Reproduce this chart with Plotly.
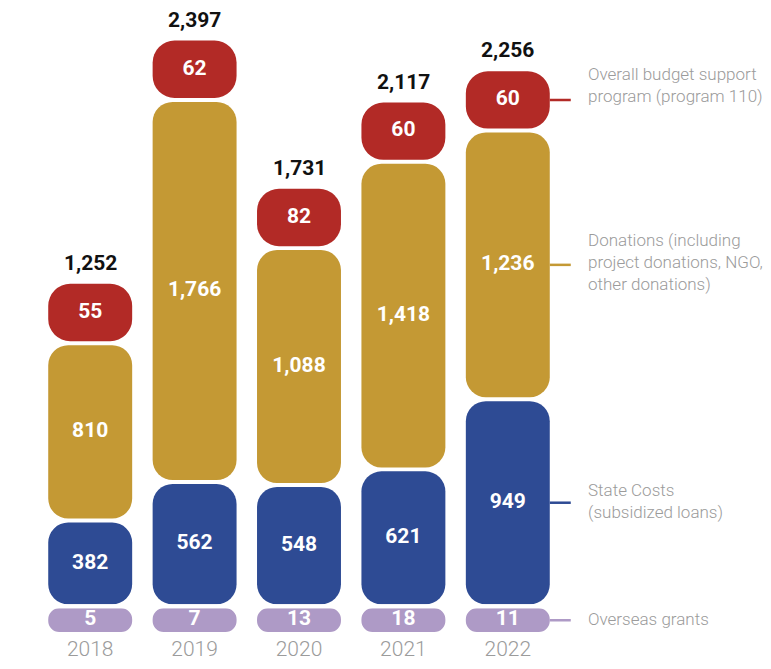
import plotly.graph_objects as go

# ---------------- data ----------------
years = ["2018", "2019", "2020", "2021", "2022"]
state_costs = [382, 562, 548, 621, 949]          # blue
donations = [810, 1766, 1088, 1418, 1236]        # gold
budget_support = [55, 62, 82, 60, 60]            # red
overseas_grants = [5, 7, 13, 18, 11]             # lavender row
totals = [1252, 2397, 1731, 2117, 2256]

series_names = [
    "Overall budget support<br>program (program 110)",
    "Donations (including<br>project donations, NGO,<br>other donations)",
    "State Costs<br>(subsidized loans)",
    "Overseas grants",
]

# ---------------- style ----------------
# (page body has an 8px margin, so the figure is sized/offset for it)
W, H = 755, 653
ML, MR, MT, MB = 30, 203, 0, 22
PLOT_H = H - MT - MB
PLOT_W = W - ML - MR
BASE_PX = 603                 # pixel row of value 0 inside plot area
PX_PER_UNIT = 0.2165
GAP_PX = 4
RED_MIN_PX = 58
GRANT_ROW_PX = 24
BAR_W = 0.804
FONT = "Roboto"

C_RED = "#B22A26"
C_GOLD = "#C49934"
C_BLUE = "#2E4B94"
C_LAV = "#AE9AC6"
C_GREY = "#9B9B9B"

u = 1.0 / PX_PER_UNIT
GAP_U = GAP_PX * u
RED_MIN_U = RED_MIN_PX * u
Y_TOP = BASE_PX * u

main_dom = [(PLOT_H - BASE_PX) / PLOT_H, 1.0]
grant_dom = [0.0, GRANT_ROW_PX / PLOT_H]

# segment bounds
blue_lo = [0.0 for _ in years]
blue_hi = [float(b) for b in state_costs]
gold_lo = [b + GAP_U for b in blue_hi]
gold_hi = [lo + g for lo, g in zip(gold_lo, donations)]
red_lo = [g + GAP_U for g in gold_hi]
red_hi = [lo + max(r, RED_MIN_U) for lo, r in zip(red_lo, budget_support)]

fig = go.Figure()


def add_pill(lo, hi, color, radius, yaxis="y"):
    fig.add_trace(go.Bar(
        x=years, y=[b - a for a, b in zip(lo, hi)], base=lo,
        marker=dict(color=color, cornerradius=radius, line=dict(width=0)),
        width=BAR_W, yaxis=yaxis, hoverinfo="skip", showlegend=False))
    return [(a + b) / 2 for a, b in zip(lo, hi)]


blue_mid = add_pill(blue_lo, blue_hi, C_BLUE, 20)
gold_mid = add_pill(gold_lo, gold_hi, C_GOLD, 20)
red_mid = add_pill(red_lo, red_hi, C_RED, 22)
grant_mid = add_pill([0.0] * len(years), [1.0] * len(years), C_LAV, 12, yaxis="y2")


def fmt(v):
    return f"{v:,}"


lab_font = dict(family=FONT, size=21, color="white", weight="bold")
for mids, vals, ax in [(blue_mid, state_costs, "y"), (gold_mid, donations, "y"),
                       (red_mid, budget_support, "y"), (grant_mid, overseas_grants, "y2")]:
    fig.add_trace(go.Scatter(
        x=years, y=mids, mode="text", text=[fmt(v) for v in vals],
        textposition="middle center", textfont=lab_font, yaxis=ax,
        hoverinfo="skip", showlegend=False, cliponaxis=False))

annotations = []
for i, (top, tot) in enumerate(zip(red_hi, totals)):
    annotations.append(dict(
        x=i, y=top, xref="x", yref="y", text=fmt(tot), showarrow=False,
        yanchor="bottom", yshift=7,
        font=dict(family=FONT, size=21, color="#111111", weight="bold")))

# right-side legend labels with connector lines
last = len(years) - 1
x_edge = (last + BAR_W / 2 + 0.5) / len(years)
x_line_end = x_edge + 21 / PLOT_W
x_text = (578 - ML) / PLOT_W
legend_rows = [
    (series_names[0], red_mid[last], "y", C_RED, 15),
    (series_names[1], gold_mid[last], "y", C_GOLD, 3),
    (series_names[2], blue_mid[last], "y", C_BLUE, 2),
    (series_names[3], grant_mid[last], "y2", C_LAV, 1),
]
shapes = []
for name, ymid, yref, col, ysh in legend_rows:
    shapes.append(dict(type="line", xref="paper", yref=yref,
                       x0=x_edge, x1=x_line_end, y0=ymid, y1=ymid,
                       line=dict(color=col, width=2.5), layer="above"))
    annotations.append(dict(
        x=x_text, y=ymid, xref="paper", yref=yref, text=name, showarrow=False,
        xanchor="left", yanchor="middle", align="left", yshift=ysh,
        font=dict(family=FONT, size=17, color=C_GREY, weight=300)))

fig.update_layout(
    width=W, height=H,
    margin=dict(l=ML, r=MR, t=MT, b=MB),
    barmode="overlay",
    paper_bgcolor="white", plot_bgcolor="white",
    showlegend=False,
    annotations=annotations, shapes=shapes,
    xaxis=dict(type="category", range=[-0.5, len(years) - 0.5], anchor="y2",
               showgrid=False, showline=False, zeroline=False, ticks="",
               tickfont=dict(family=FONT, size=21, color=C_GREY, weight=300),
               ticklabelstandoff=2),
    yaxis=dict(domain=main_dom, range=[0, Y_TOP], visible=False,
               showgrid=False, zeroline=False),
    yaxis2=dict(domain=grant_dom, range=[0, 1], visible=False,
                showgrid=False, zeroline=False),
)

fig.write_html("out.html")
